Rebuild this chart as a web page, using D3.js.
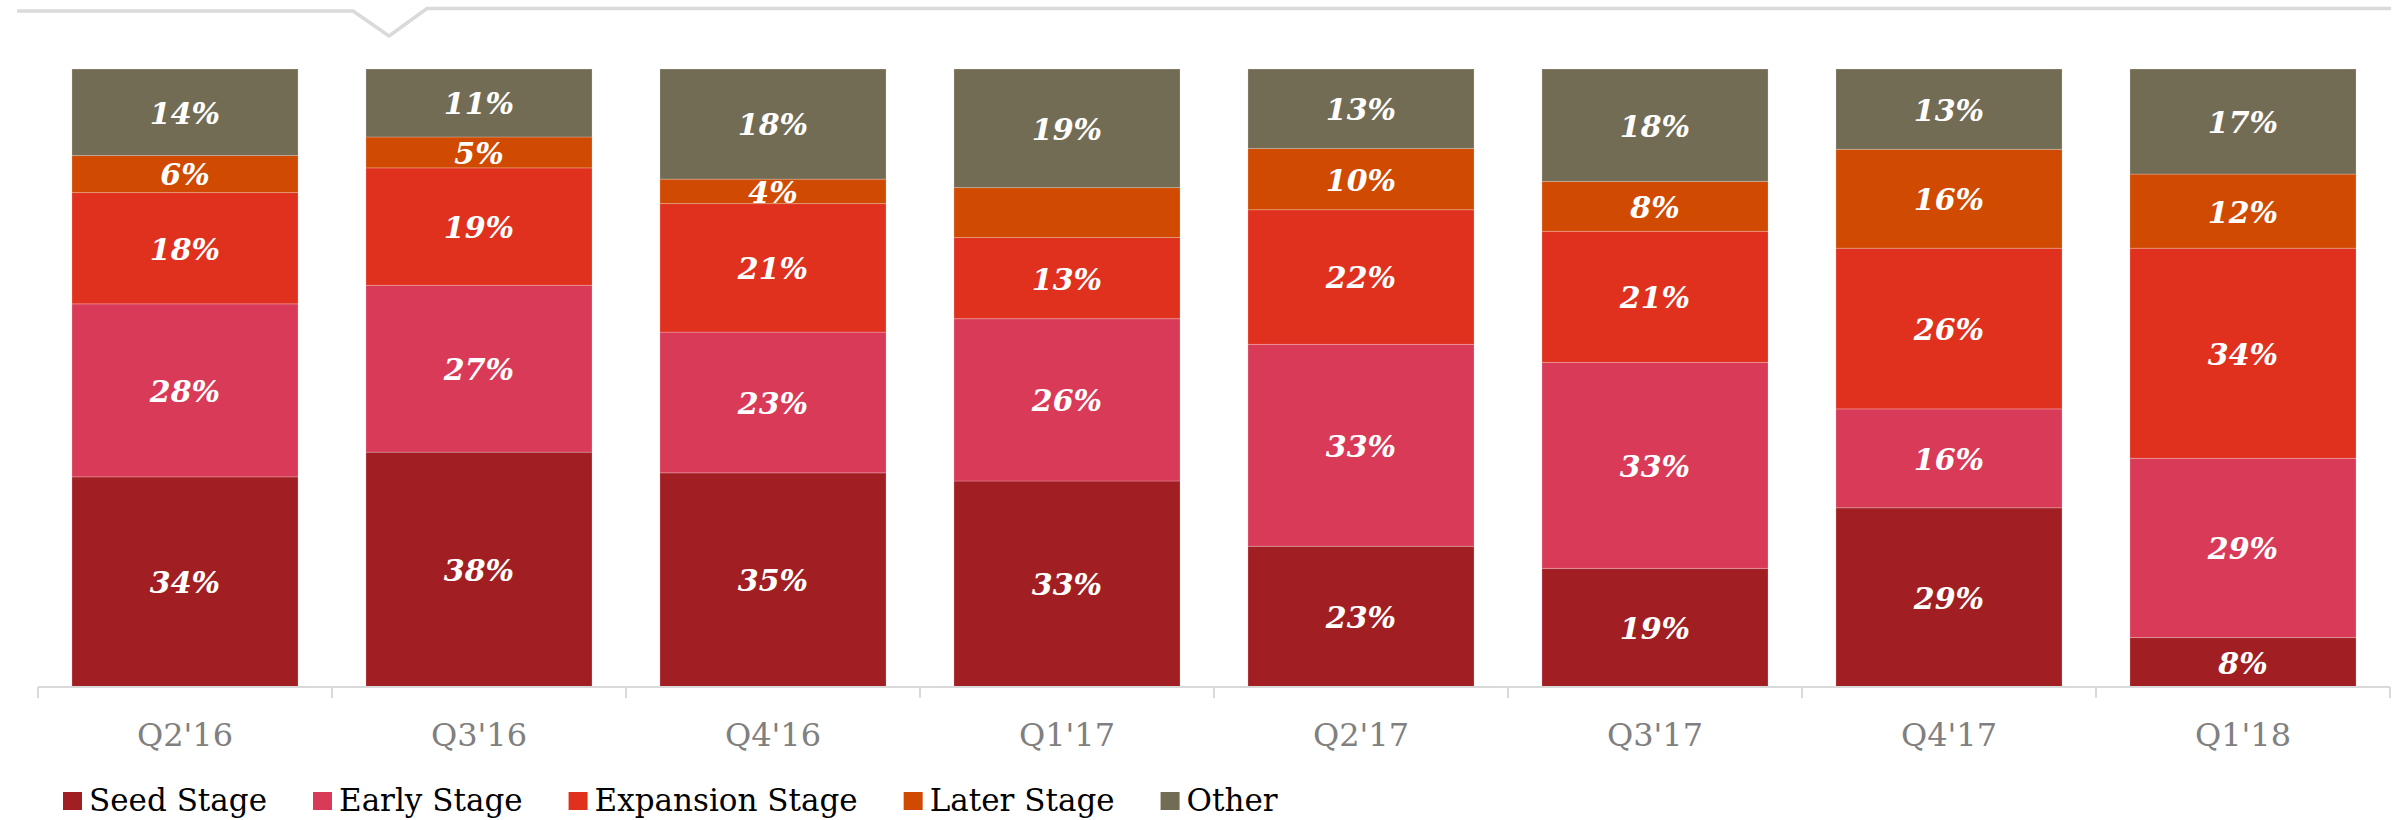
<!DOCTYPE html>
<html>
<head>
<meta charset="utf-8">
<script src="https://cdn.jsdelivr.net/npm/d3@7"></script>
<style>
  body { margin: 0; background: #fff; }
  svg { display: block; font-family: "DejaVu Serif", Georgia, serif; }
</style>
</head>
<body>
<div id="chart"></div>
<script>
// quarters on the x axis
const quarters = ["Q2'16", "Q3'16", "Q4'16", "Q1'17", "Q2'17", "Q3'17", "Q4'17", "Q1'18"];

// share of deals by stage (%)
const seedStage      = [34, 38, 35, 33, 23, 19, 29, 8];
const earlyStage     = [28, 27, 23, 26, 33, 33, 16, 29];
const expansionStage = [18, 19, 21, 13, 22, 21, 26, 34];
const laterStage     = [6, 5, 4, 8, 10, 8, 16, 12];
const otherStage     = [14, 11, 18, 19, 13, 18, 13, 17];

const stages = ["Seed Stage", "Early Stage", "Expansion Stage", "Later Stage", "Other"];
const stageColors = ["#a11f22", "#d93a57", "#e0301e", "#d04a02", "#736c55"];
// the reference leaves this one segment without a label
const unlabelled = ["Q1'17|Later Stage"];

const width = 2402, height = 820;

const rows = quarters.map((q, i) => ({
  quarter: q,
  "Seed Stage": seedStage[i],
  "Early Stage": earlyStage[i],
  "Expansion Stage": expansionStage[i],
  "Later Stage": laterStage[i],
  "Other": otherStage[i]
}));

const series = d3.stack()
    .keys(stages)
    .offset(d3.stackOffsetExpand)(rows);

const x = d3.scaleBand()
    .domain(quarters)
    .range([38, 2390])
    .paddingInner(0.231)
    .paddingOuter(0.1155);

const y = d3.scaleLinear()
    .domain([0, 1])
    .range([687, 69]);

const color = d3.scaleOrdinal().domain(stages).range(stageColors);

const svg = d3.select('#chart')
    .append('svg')
    .attr('width', width)
    .attr('height', height);

// header rule with the little notch
svg.append('path')
    .attr('d', 'M17,11 L353,11 L389,36 L427,8.5 L2391,8.5')
    .attr('fill', 'none')
    .attr('stroke', '#dadada')
    .attr('stroke-width', 3.5)
    .attr('stroke-linejoin', 'round');

// stacked bars
const layer = svg.append('g')
    .selectAll('g')
    .data(series)
    .join('g')
    .attr('fill', d => color(d.key));

layer.selectAll('rect')
    .data(d => d.map(p => ({ key: d.key, p })))
    .join('rect')
    .attr('x', d => x(d.p.data.quarter))
    .attr('y', d => y(d.p[1]))
    .attr('width', x.bandwidth())
    .attr('height', d => y(d.p[0]) - y(d.p[1]))
    .attr('stroke', 'rgba(255,255,255,0.22)')
    .attr('stroke-width', 1);

// value labels
layer.selectAll('text')
    .data(d => d.map(p => ({ key: d.key, p })))
    .join('text')
    .filter(d => !unlabelled.includes(d.p.data.quarter + '|' + d.key))
    .attr('x', d => x(d.p.data.quarter) + x.bandwidth() / 2)
    .attr('y', d => (y(d.p[0]) + y(d.p[1])) / 2)
    .attr('dy', '0.38em')
    .attr('text-anchor', 'middle')
    .attr('fill', '#fff')
    .style('font-size', '30px')
    .style('font-weight', 'bold')
    .style('font-style', 'italic')
    .text(d => d.p.data[d.key] + '%');

// x axis: baseline, boundary ticks and quarter labels
const axis = svg.append('g').attr('transform', 'translate(0,687)');
axis.append('line')
    .attr('x1', x.range()[0]).attr('x2', x.range()[1])
    .attr('stroke', '#d9d9d9').attr('stroke-width', 2);

const bounds = d3.range(quarters.length + 1).map(i => x.range()[0] + i * x.step());
axis.selectAll('line.tick')
    .data(bounds)
    .join('line')
    .classed('tick', true)
    .attr('x1', d => d).attr('x2', d => d)
    .attr('y1', 0).attr('y2', 11)
    .attr('stroke', '#d9d9d9').attr('stroke-width', 2);

svg.append('g')
    .attr('transform', 'translate(0,687)')
    .call(d3.axisBottom(x).tickSize(0).tickPadding(0))
    .call(g => g.select('.domain').remove())
    .call(g => g.selectAll('text')
        .attr('y', 59)
        .attr('dy', 0)
        .attr('fill', '#808080')
        .style('font-family', '"DejaVu Serif", Georgia, serif')
        .style('font-size', '32px'));

// legend
const legend = svg.append('g').attr('transform', 'translate(63,0)');
let lx = 0;
stages.forEach(s => {
  const g = legend.append('g').attr('transform', `translate(${lx},0)`);
  g.append('rect')
      .attr('x', 0).attr('y', 792)
      .attr('width', 19).attr('height', 18)
      .attr('fill', color(s));
  const t = g.append('text')
      .attr('x', 26).attr('y', 811)
      .attr('fill', '#000')
      .style('font-size', '31px')
      .text(s);
  lx += 26 + t.node().getComputedTextLength() + 46;
});
</script>
</body>
</html>
